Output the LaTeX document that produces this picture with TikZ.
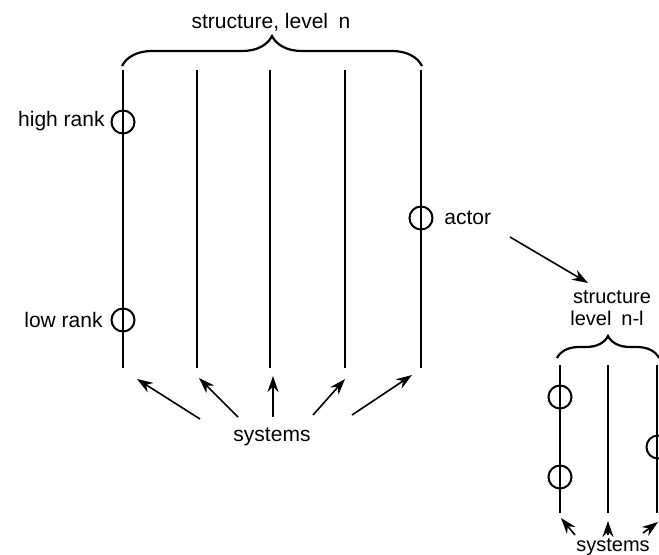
\documentclass[tikz,border=0pt]{standalone}
\usepackage{fontspec}
\setmainfont{Liberation Sans}
\usetikzlibrary{arrows.meta,decorations.pathreplacing}
\begin{document}
\begin{tikzpicture}[x=0.5pt,y=-0.5pt,
  sysline/.style={line width=1pt},
  rankcircle/.style={circle,draw,line width=1pt,minimum size=11.5pt,inner sep=0pt},
  lbl/.style={font=\fontsize{10.5}{12}\selectfont,inner sep=1pt},
  bracedeco/.style={line width=1.1pt,decorate,decoration={brace,amplitude=#1}},
  sysarrow/.style={line width=0.8pt,-{Stealth[length=8pt,width=5.5pt]}}]
\useasboundingbox (0,0) rectangle (659,554);
% main structure, level n
\foreach \i/\x in {1/123,2/197,3/270,4/345,5/421}{
  \coordinate (t\i) at (\x,70);
  \coordinate (b\i) at (\x,368);
  \draw[sysline] (t\i) -- (b\i);
}
\draw[bracedeco=15pt] (122,66) -- (422,66);
\node[lbl] (title) at (271,22) {structure, level\enspace n};
\node[rankcircle] (high) at (123,122) {};
\node[rankcircle] (low) at (123,320) {};
\node[rankcircle] (actor) at (421,218) {};
\node[lbl,anchor=east] (highl) at (107,121) {high rank};
\node[lbl,anchor=east] (lowl) at (105,320) {low rank};
\node[lbl,anchor=west] (actorl) at (442,218) {actor};
% systems arrows
\node[lbl] (sys) at (272,437) {systems};
\coordinate (s1) at (200,419); \coordinate (h1) at (137,379);
\coordinate (s2) at (238,417); \coordinate (h2) at (199,378);
\coordinate (s3) at (273,417); \coordinate (h3) at (273,376);
\coordinate (s4) at (313,415); \coordinate (h4) at (345,379);
\coordinate (s5) at (352,415); \coordinate (h5) at (412,375);
\foreach \i in {1,...,5}{\draw[sysarrow] (s\i) -- (h\i);}
% actor arrow
\coordinate (aa) at (510,237);
\coordinate (ab) at (588,283);
\draw[sysarrow] (aa) -- (ab);
% structure level n-l
\node[lbl,font=\fontsize{10}{11}\selectfont,inner sep=0pt] (sub1) at (612,297) {structure};
\node[lbl,font=\fontsize{10}{11}\selectfont,inner sep=0pt] (sub2) at (607,318) {level\enspace n-l};
\draw[bracedeco=11pt] (557,358) -- (659,358);
\foreach \i/\x in {1/560,2/608,3/657}{
  \coordinate (u\i) at (\x,365);
  \coordinate (v\i) at (\x,513);
  \draw[sysline] (u\i) -- (v\i);
}
\node[rankcircle] (c1) at (560,397) {};
\node[rankcircle] (c2) at (560,477) {};
\node[rankcircle] (c3) at (658,447) {};
\node[lbl,font=\fontsize{10}{11}\selectfont] (sys2) at (613,547) {systems};
\coordinate (p1) at (575,535); \coordinate (q1) at (561,518);
\coordinate (p2) at (608,535); \coordinate (q2) at (608,521);
\coordinate (p3) at (643,533); \coordinate (q3) at (658,522);
\foreach \i in {1,2,3}{\draw[sysarrow] (p\i) -- (q\i);}
\end{tikzpicture}
\end{document}
